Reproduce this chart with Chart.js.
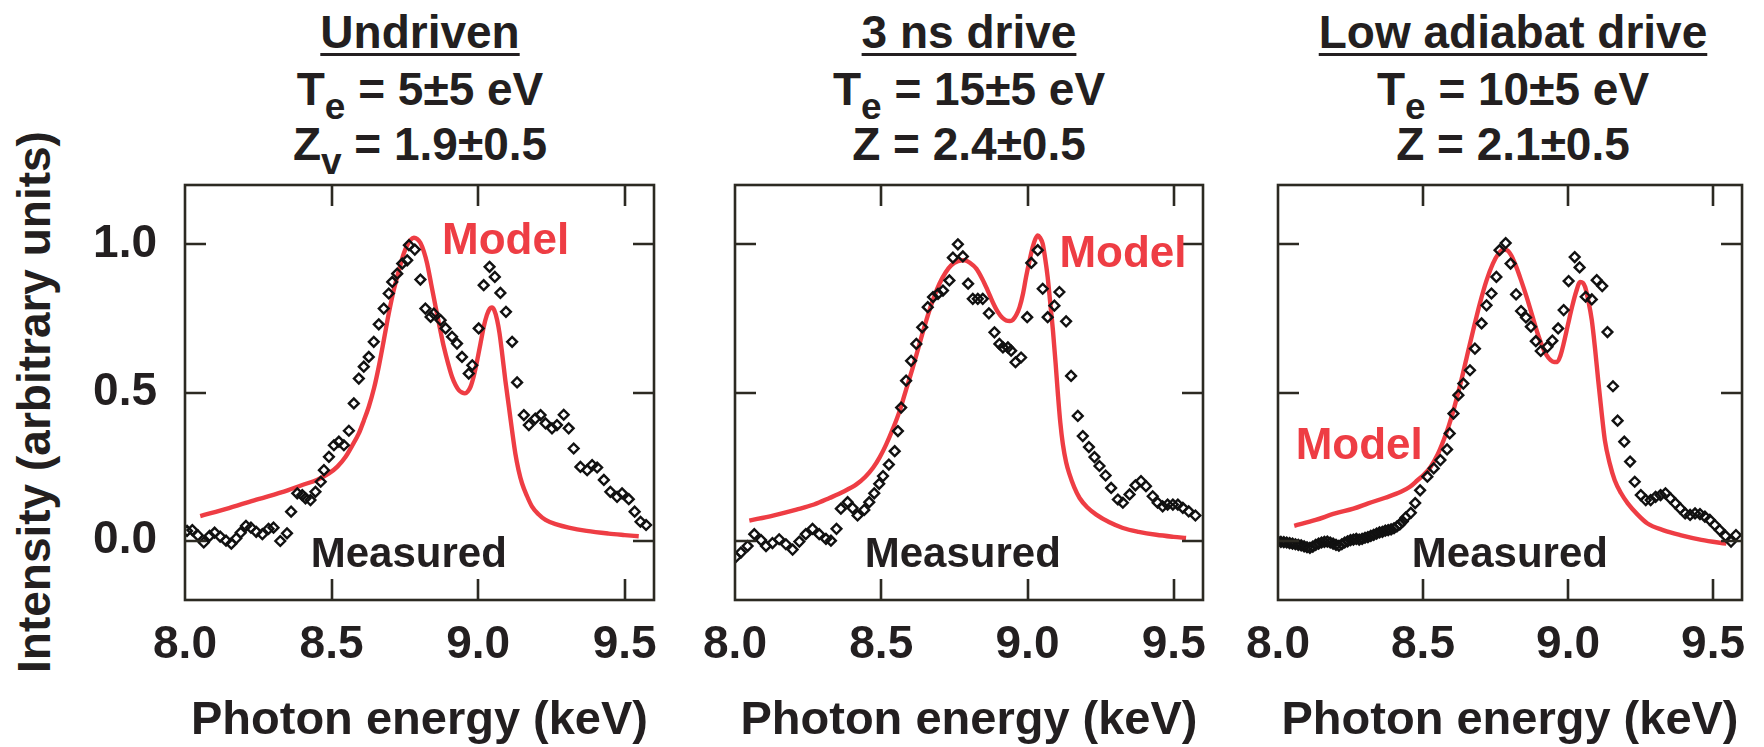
<!DOCTYPE html>
<html><head><meta charset="utf-8">
<script src="https://cdn.jsdelivr.net/npm/chart.js@4.4.1/dist/chart.umd.min.js"></script>
<style>
html,body{margin:0;padding:0;background:#fff;}
body{width:1764px;height:747px;overflow:hidden;position:relative;font-family:"Liberation Sans",Arial,Helvetica,sans-serif;font-weight:bold;color:#231f20}
.t{position:absolute;width:600px;text-align:center;font-size:46px;line-height:46px;white-space:nowrap}
.t u{text-decoration-thickness:3px;text-underline-offset:5px}
.t sub{font-size:37px;line-height:0;vertical-align:-14px}
canvas{position:absolute;top:160px}
#ytitle{position:absolute;left:-246px;top:379px;width:560px;text-align:center;font-size:46px;line-height:46px;white-space:nowrap;transform:rotate(-90deg)}
</style>
</head><body>
<div class="t" style="left:120px;top:9px"><u>Undriven</u></div>
<div class="t" style="left:120px;top:66px">T<sub>e</sub> = 5±5 eV</div>
<div class="t" style="left:120px;top:121px">Z<sub>v</sub> = 1.9±0.5</div>
<div class="t" style="left:669px;top:9px"><u>3 ns drive</u></div>
<div class="t" style="left:669px;top:66px">T<sub>e</sub> = 15±5 eV</div>
<div class="t" style="left:669px;top:121px">Z = 2.4±0.5</div>
<div class="t" style="left:1213px;top:9px"><u>Low adiabat drive</u></div>
<div class="t" style="left:1213px;top:66px">T<sub>e</sub> = 10±5 eV</div>
<div class="t" style="left:1213px;top:121px">Z = 2.1±0.5</div>
<div id="ytitle">Intensity (arbitrary units)</div>
<canvas id="c1" width="609" height="587" style="left:75px"></canvas>
<canvas id="c2" width="558" height="587" style="left:675px"></canvas>
<canvas id="c3" width="546" height="587" style="left:1218px"></canvas>
<script>
// ---- tick labels ----
const xTickValues = [8.0, 8.5, 9.0, 9.5];
const yTickValues = [0.0, 0.5, 1.0];

// ---- Undriven ----
const undrivenMeasE = [8.007,8.025,8.044,8.064,8.084,8.101,8.120,8.140,8.158,8.175,8.190,8.208,8.225,8.243,8.264,8.285,8.302,8.325,8.348,8.362,
 8.383,8.400,8.411,8.428,8.445,8.463,8.474,8.491,8.508,8.525,8.542,8.559,8.576,8.593,8.610,8.627,8.644,8.661,8.678,8.695,
 8.707,8.724,8.741,8.758,8.764,8.784,8.803,8.820,8.838,8.849,8.872,8.889,8.911,8.928,8.945,8.968,8.980,9.002,9.019,9.039,
 9.057,9.076,9.095,9.116,9.133,9.156,9.173,9.195,9.213,9.230,9.252,9.269,9.292,9.309,9.326,9.349,9.372,9.389,9.406,9.429,
 9.451,9.474,9.491,9.514,9.534,9.554,9.573];
const undrivenMeasI = [0.033,0.036,0.018,-0.006,0.016,0.027,0.014,0.000,-0.010,0.008,0.027,0.050,0.044,0.030,0.022,0.040,0.044,-0.001,0.025,0.098,
 0.160,0.154,0.143,0.137,0.165,0.199,0.238,0.283,0.322,0.334,0.322,0.371,0.463,0.547,0.587,0.620,0.671,0.730,0.783,0.834,
 0.873,0.901,0.935,0.946,0.997,0.982,0.881,0.783,0.755,0.766,0.744,0.716,0.688,0.665,0.620,0.564,0.592,0.716,0.862,0.924,
 0.890,0.836,0.772,0.671,0.534,0.424,0.390,0.412,0.424,0.396,0.379,0.390,0.425,0.379,0.311,0.249,0.238,0.255,0.247,0.205,
 0.165,0.148,0.160,0.140,0.098,0.064,0.053];
const undrivenModelE = [8.052,8.15,8.25,8.35,8.40,8.45,8.491,8.52,8.548,8.57,8.593,8.61,8.627,8.645,8.661,8.678,8.695,8.712,8.730,8.745,
 8.758,8.770,8.781,8.792,8.803,8.815,8.826,8.840,8.855,8.870,8.883,8.897,8.911,8.923,8.934,8.945,8.955,8.965,8.974,8.985,
 8.997,9.008,9.019,9.030,9.040,9.047,9.055,9.065,9.073,9.082,9.093,9.105,9.116,9.127,9.138,9.150,9.167,9.184,9.205,9.230,
 9.27,9.309,9.37,9.445,9.50,9.548];
const undrivenModelI = [0.083,0.110,0.140,0.170,0.188,0.205,0.227,0.250,0.283,0.320,0.362,0.405,0.452,0.515,0.587,0.675,0.766,0.845,0.912,0.965,
 0.997,1.015,1.022,1.018,1.005,0.975,0.935,0.865,0.789,0.715,0.654,0.600,0.553,0.525,0.508,0.500,0.497,0.504,0.519,0.555,
 0.609,0.665,0.721,0.762,0.783,0.787,0.778,0.744,0.700,0.631,0.540,0.452,0.370,0.294,0.238,0.193,0.150,0.115,0.090,0.070,
 0.054,0.044,0.033,0.024,0.019,0.015];

// ---- 3 ns drive ----
const nsMeasE = [8.003,8.020,8.043,8.066,8.089,8.106,8.128,8.151,8.174,8.197,8.220,8.242,8.265,8.288,8.311,8.328,8.347,8.362,8.385,8.402,
 8.419,8.442,8.459,8.476,8.493,8.506,8.526,8.546,8.557,8.568,8.585,8.602,8.620,8.640,8.659,8.677,8.694,8.711,8.733,8.745,
 8.762,8.779,8.797,8.813,8.830,8.847,8.868,8.887,8.904,8.916,8.933,8.944,8.959,8.978,8.999,9.013,9.035,9.052,9.069,9.092,
 9.109,9.132,9.149,9.172,9.189,9.210,9.229,9.246,9.267,9.286,9.309,9.326,9.349,9.369,9.388,9.405,9.428,9.445,9.462,9.479,
 9.497,9.514,9.531,9.551,9.574];
const nsMeasI = [-0.055,-0.040,-0.018,0.022,0.002,-0.018,-0.008,0.005,-0.012,-0.030,-0.003,0.022,0.040,0.022,0.006,0.000,0.040,0.108,0.130,0.110,
 0.085,0.104,0.130,0.160,0.192,0.218,0.257,0.302,0.370,0.449,0.540,0.607,0.664,0.720,0.788,0.822,0.833,0.844,0.878,0.955,
 1.000,0.959,0.867,0.816,0.816,0.816,0.767,0.703,0.664,0.652,0.652,0.641,0.602,0.618,0.754,0.937,0.980,0.850,0.754,0.793,
 0.839,0.740,0.556,0.421,0.353,0.316,0.282,0.252,0.220,0.178,0.139,0.128,0.156,0.187,0.201,0.184,0.150,0.128,0.116,0.122,
 0.122,0.122,0.111,0.099,0.085];
const nsModelE = [8.049,8.13,8.21,8.27,8.323,8.37,8.415,8.445,8.472,8.495,8.517,8.54,8.563,8.585,8.608,8.631,8.654,8.676,8.699,8.72,
 8.739,8.762,8.785,8.805,8.825,8.845,8.864,8.882,8.899,8.914,8.927,8.940,8.950,8.962,8.973,8.985,8.995,9.007,9.018,9.027,
 9.035,9.043,9.052,9.060,9.069,9.078,9.087,9.096,9.104,9.112,9.121,9.132,9.144,9.160,9.178,9.205,9.235,9.28,9.326,9.38,
 9.440,9.50,9.542];
const nsModelI = [0.068,0.085,0.105,0.122,0.144,0.165,0.190,0.215,0.246,0.282,0.325,0.378,0.438,0.510,0.585,0.665,0.743,0.810,0.867,0.905,
 0.929,0.943,0.946,0.936,0.918,0.884,0.844,0.803,0.771,0.752,0.743,0.741,0.745,0.762,0.788,0.835,0.889,0.945,0.991,1.018,
 1.030,1.022,1.002,0.955,0.889,0.800,0.709,0.600,0.494,0.400,0.325,0.265,0.223,0.180,0.144,0.112,0.088,0.062,0.043,0.030,
 0.020,0.013,0.009];

// ---- Low adiabat drive ----
const lowMeasE = [8.00,8.01,8.02,8.03,8.04,8.05,8.06,8.07,8.08,8.09,8.10,8.11,8.12,8.13,8.14,8.15,8.16,8.17,8.18,8.19,
 8.20,8.21,8.22,8.23,8.24,8.25,8.26,8.27,8.28,8.29,8.30,8.31,8.32,8.33,8.34,8.35,8.36,8.37,8.38,8.39,
 8.40,8.41,8.42,8.43,8.44,8.458,8.473,8.490,8.515,8.537,8.560,8.583,8.592,8.605,8.622,8.639,8.662,8.679,8.702,8.719,
 8.736,8.753,8.764,8.785,8.802,8.821,8.838,8.855,8.872,8.889,8.906,8.929,8.946,8.966,8.985,9.002,9.023,9.040,9.061,9.082,
 9.099,9.118,9.136,9.155,9.171,9.194,9.214,9.230,9.251,9.268,9.285,9.302,9.319,9.336,9.353,9.370,9.387,9.404,9.421,9.438,
 9.455,9.472,9.489,9.506,9.523,9.543,9.562,9.579];
const lowMeasI = [-0.002,-0.004,-0.005,-0.006,-0.008,-0.010,-0.012,-0.014,-0.016,-0.019,-0.022,-0.024,-0.020,-0.014,-0.010,-0.006,-0.004,-0.003,-0.006,-0.010,
 -0.014,-0.017,-0.012,-0.006,-0.002,0.002,0.004,0.006,0.004,0.006,0.010,0.012,0.016,0.020,0.024,0.028,0.030,0.034,0.036,0.038,
 0.042,0.048,0.055,0.065,0.078,0.094,0.127,0.170,0.216,0.244,0.272,0.308,0.362,0.429,0.491,0.530,0.575,0.648,0.733,0.794,
 0.834,0.890,0.980,1.004,0.935,0.831,0.775,0.753,0.722,0.673,0.640,0.654,0.675,0.716,0.778,0.876,0.957,0.922,0.823,0.814,
 0.879,0.859,0.704,0.521,0.405,0.334,0.267,0.199,0.154,0.137,0.137,0.148,0.154,0.160,0.143,0.126,0.109,0.092,0.087,0.092,
 0.090,0.081,0.070,0.053,0.036,0.016,-0.003,0.019];
const lowModelE = [8.056,8.13,8.197,8.26,8.311,8.37,8.424,8.455,8.481,8.505,8.526,8.55,8.571,8.588,8.605,8.628,8.651,8.673,8.696,8.718,
 8.741,8.760,8.776,8.790,8.804,8.820,8.838,8.858,8.878,8.895,8.912,8.926,8.940,8.952,8.963,8.974,8.985,9.000,9.014,9.028,
 9.042,9.051,9.059,9.070,9.082,9.093,9.104,9.115,9.127,9.144,9.161,9.183,9.206,9.24,9.274,9.33,9.387,9.46,9.546];
const lowModelI = [0.050,0.070,0.092,0.108,0.126,0.145,0.165,0.182,0.204,0.225,0.249,0.290,0.339,0.385,0.440,0.525,0.620,0.710,0.800,0.875,
 0.935,0.968,0.982,0.980,0.963,0.928,0.879,0.820,0.755,0.700,0.654,0.626,0.609,0.603,0.603,0.625,0.665,0.730,0.789,0.840,
 0.873,0.870,0.856,0.810,0.744,0.650,0.542,0.440,0.339,0.260,0.204,0.160,0.126,0.088,0.058,0.035,0.019,0.003,-0.010];

const RED = '#EE3D44';
const INK = '#231f20';
const FRAME = '#2c2a22';
const FONT = '"Liberation Sans", Arial, Helvetica, sans-serif';

function pts(xs, ys){ return xs.map((x, i) => ({x: x, y: ys[i]})); }

const frameTicks = {
  id: 'frameTicks',
  afterDatasetsDraw(chart) {
    const {ctx, chartArea: a, scales: {x, y}} = chart;
    const len = 21;
    ctx.save();
    ctx.strokeStyle = FRAME;
    ctx.lineWidth = 2.6;
    ctx.lineCap = 'butt';
    ctx.beginPath();
    xTickValues.forEach(v => {
      const px = Math.round(x.getPixelForValue(v));
      if (px <= a.left + 2 || px >= a.right - 2) return;
      ctx.moveTo(px, a.top); ctx.lineTo(px, a.top + len);
      ctx.moveTo(px, a.bottom); ctx.lineTo(px, a.bottom - len);
    });
    yTickValues.forEach(v => {
      const py = Math.round(y.getPixelForValue(v));
      ctx.moveTo(a.left, py); ctx.lineTo(a.left + len, py);
      ctx.moveTo(a.right, py); ctx.lineTo(a.right - len, py);
    });
    ctx.stroke();
    ctx.strokeRect(a.left, a.top, a.right - a.left, a.bottom - a.top);
    ctx.restore();
  }
};

const panelLabels = {
  id: 'panelLabels',
  afterDatasetsDraw(chart, args, opts) {
    const {ctx, scales: {x, y}} = chart;
    ctx.save();
    (opts.items || []).forEach(it => {
      ctx.font = 'bold ' + it.size + 'px ' + FONT;
      ctx.fillStyle = it.color;
      ctx.textAlign = 'left';
      ctx.textBaseline = 'alphabetic';
      ctx.fillText(it.text, x.getPixelForValue(it.x), y.getPixelForValue(it.y));
    });
    ctx.restore();
  }
};

function makePanel(id, meas, model, showY, axisW, rightPad, labels) {
  return new Chart(document.getElementById(id), {
    type: 'scatter',
    data: {
      datasets: [
        {type: 'scatter', data: meas, pointStyle: 'rectRot', pointRadius: 4.9,
         borderColor: '#111111', borderWidth: 2.4, backgroundColor: 'rgba(0,0,0,0)', order: 0},
        {type: 'line', data: model, borderColor: RED, borderWidth: 4.4, pointRadius: 0,
         cubicInterpolationMode: 'monotone', fill: false, order: 1}
      ]
    },
    options: {
      responsive: false, animation: false, events: [],
      layout: {padding: {top: 25, right: rightPad, left: 0, bottom: 0}},
      plugins: {legend: {display: false}, tooltip: {enabled: false}, panelLabels: {items: labels}},
      scales: {
        x: {
          type: 'linear', min: 8.0, max: 9.6,
          afterBuildTicks: s => { s.ticks = xTickValues.map(v => ({value: v})); },
          afterFit: s => { s.height = 147; },
          grid: {display: false, drawTicks: false}, border: {display: false},
          ticks: {padding: 18, color: INK, font: {family: FONT, size: 46, weight: 'bold'},
                  maxRotation: 0, autoSkip: false, callback: v => Number(v).toFixed(1)},
          title: {display: true, text: 'Photon energy (keV)', color: INK,
                  font: {family: FONT, size: 47, weight: 'bold', lineHeight: 1.1}, padding: {top: 0, bottom: 0}}
        },
        y: {
          type: 'linear', min: -0.2, max: 1.2,
          afterBuildTicks: s => { s.ticks = yTickValues.map(v => ({value: v})); },
          afterFit: s => { s.width = axisW; s.paddingTop = 0; s.paddingBottom = 0; },
          grid: {display: false, drawTicks: false}, border: {display: false},
          ticks: {display: showY, padding: 28, color: INK, font: {family: FONT, size: 46, weight: 'bold'},
                  callback: v => Number(v).toFixed(1)}
        }
      }
    },
    plugins: [frameTicks, panelLabels]
  });
}

makePanel('c1', pts(undrivenMeasE, undrivenMeasI), pts(undrivenModelE, undrivenModelI), true, 110, 30, [
  {text: 'Model', x: 8.877, y: 0.967, color: RED, size: 44},
  {text: 'Measured', x: 8.429, y: -0.09, color: INK, size: 42}
]);
makePanel('c2', pts(nsMeasE, nsMeasI), pts(nsModelE, nsModelI), false, 60, 30, [
  {text: 'Model', x: 9.109, y: 0.924, color: RED, size: 44},
  {text: 'Measured', x: 8.4435, y: -0.09, color: INK, size: 42}
]);
makePanel('c3', pts(lowMeasE, lowMeasI), pts(lowModelE, lowModelI), false, 60, 16, [
  {text: 'Model', x: 8.061, y: 0.2746, color: RED, size: 44},
  {text: 'Measured', x: 8.4616, y: -0.09, color: INK, size: 42}
]);
</script>
</body></html>
